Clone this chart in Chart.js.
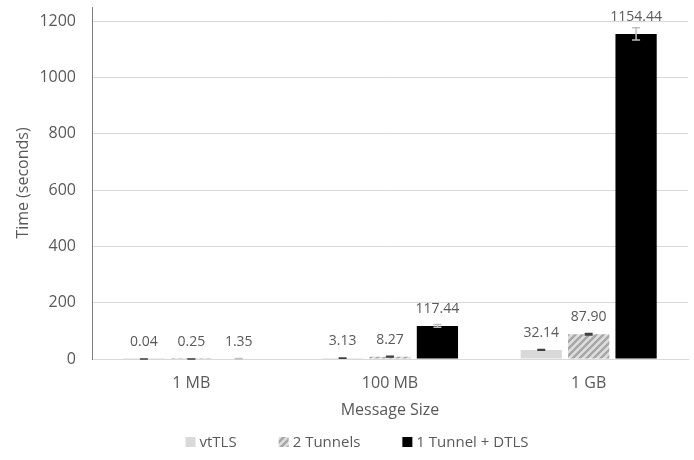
<!DOCTYPE html>
<html>
<head>
<meta charset="utf-8">
<script src="https://cdn.jsdelivr.net/npm/chart.js@4/dist/chart.umd.min.js"></script>
<style>
  html, body { margin: 0; padding: 0; background: #fff; }
  #wrap { width: 694px; height: 460px; }
</style>
</head>
<body>
<div id="wrap"><canvas id="c" width="694" height="460"></canvas></div>
<script>
// Transfer time per message size
const categories = ['1 MB', '100 MB', '1 GB'];
const seriesNames = ['vtTLS', '2 Tunnels', '1 Tunnel + DTLS'];
const vtTLS = [0.04, 3.13, 32.14];
const twoTunnels = [0.25, 8.27, 87.90];
const tunnelDtls = [1.35, 117.44, 1154.44];
// standard deviation shown as error bars
const vtTLSErr = [0.02, 0.4, 1.2];
const twoTunnelsErr = [0.1, 1.2, 3.0];
const tunnelDtlsErr = [0.3, 5.0, 22.0];
const yTicks = [0, 200, 400, 600, 800, 1000, 1200];

const TEXT = '#595959';
const FONT = "'Open Sans', 'Liberation Sans', sans-serif";

function hatch() {
  const s = 7;
  const p = document.createElement('canvas');
  p.width = s; p.height = s;
  const g = p.getContext('2d');
  g.fillStyle = '#dedede';
  g.fillRect(0, 0, s, s);
  g.strokeStyle = '#a6a6a6';
  g.lineWidth = 2.4;
  g.beginPath();
  g.moveTo(-1, s + 1); g.lineTo(s + 1, -1);
  g.moveTo(-1, 1); g.lineTo(1, -1);
  g.moveTo(s - 1, s + 1); g.lineTo(s + 1, s - 1);
  g.stroke();
  return document.getElementById('c').getContext('2d').createPattern(p, 'repeat');
}

const errorBars = {
  id: 'errorBars',
  afterDatasetsDraw(chart) {
    const ctx = chart.ctx;
    const y = chart.scales.y;
    chart.data.datasets.forEach((ds, i) => {
      const meta = chart.getDatasetMeta(i);
      meta.data.forEach((bar, j) => {
        const v = ds.data[j], e = ds.errors[j];
        const top = y.getPixelForValue(v + e);
        const bot = y.getPixelForValue(Math.max(0, v - e));
        ctx.save();
        ctx.strokeStyle = ds.errorColor;
        ctx.lineWidth = 1.5;
        ctx.beginPath();
        ctx.moveTo(bar.x, top); ctx.lineTo(bar.x, bot);
        ctx.moveTo(bar.x - 4, top); ctx.lineTo(bar.x + 4, top);
        ctx.moveTo(bar.x - 4, bot); ctx.lineTo(bar.x + 4, bot);
        ctx.stroke();
        // value label above the bar end
        ctx.fillStyle = TEXT;
        ctx.font = '14px ' + FONT;
        ctx.textAlign = 'center';
        ctx.textBaseline = 'middle';
        ctx.fillText(v.toFixed(2), bar.x, bar.y - 17);
        ctx.restore();
      });
    });
  }
};

// series key along the bottom edge
const bottomLegend = {
  id: 'bottomLegend',
  afterDraw(chart) {
    const ctx = chart.ctx;
    ctx.save();
    ctx.font = '15px ' + FONT;
    ctx.textBaseline = 'middle';
    ctx.textAlign = 'left';
    const box = 10, gapText = 4, gapItem = 42, cy = 442;
    const widths = chart.data.datasets.map(ds => box + gapText + ctx.measureText(ds.label).width);
    const total = widths.reduce((a, b) => a + b, 0) + gapItem * (widths.length - 1);
    let x = (chart.width - total) / 2 + 10;
    chart.data.datasets.forEach((ds, i) => {
      ctx.fillStyle = ds.backgroundColor;
      ctx.fillRect(x, cy - box / 2, box, box);
      ctx.fillStyle = TEXT;
      ctx.fillText(ds.label, x + box + gapText, cy + 1);
      x += widths[i] + gapItem;
    });
    ctx.restore();
  }
};

new Chart(document.getElementById('c'), {
  type: 'bar',
  data: {
    labels: categories,
    datasets: [
      { label: seriesNames[0], data: vtTLS, errors: vtTLSErr, backgroundColor: '#d9d9d9', errorColor: '#404040' },
      { label: seriesNames[1], data: twoTunnels, errors: twoTunnelsErr, backgroundColor: hatch(), errorColor: '#404040' },
      { label: seriesNames[2], data: tunnelDtls, errors: tunnelDtlsErr, backgroundColor: '#000000', errorColor: '#bfbfbf' }
    ]
  },
  options: {
    responsive: false,
    animation: false,
    datasets: { bar: { categoryPercentage: 0.716, barPercentage: 0.87 } },
    layout: { padding: { top: 7, right: 6, left: 0, bottom: 0 } },
    plugins: {
      legend: { display: false },
      tooltip: { enabled: false }
    },
    scales: {
      x: {
        afterFit(scale) {
          scale.height = 101;
          scale.paddingLeft = 0; scale.paddingRight = 0;
        },
        grid: { display: false, drawTicks: false },
        border: { color: '#d9d9d9', width: 1 },
        ticks: { color: TEXT, font: { family: FONT, size: 16 }, padding: 15 },
        title: { display: true, text: 'Message Size', color: TEXT, font: { family: FONT, size: 16 }, padding: { top: 0, bottom: 40 } }
      },
      y: {
        min: 0, max: 1250,
        afterFit(scale) {
          scale.width = 92;
          scale.paddingTop = 0; scale.paddingBottom = 0;
        },
        afterBuildTicks(scale) { scale.ticks = yTicks.map(v => ({ value: v })); },
        grid: { color: '#d9d9d9', drawTicks: false },
        border: { color: '#7f7f7f', width: 1 },
        ticks: { color: TEXT, font: { family: FONT, size: 16 }, padding: 16, callback: v => String(v) },
        title: { display: true, text: 'Time (seconds)', color: TEXT, font: { family: FONT, size: 16 }, padding: { top: 14, bottom: 0 } }
      }
    }
  },
  plugins: [errorBars, bottomLegend]
});
</script>
</body>
</html>
